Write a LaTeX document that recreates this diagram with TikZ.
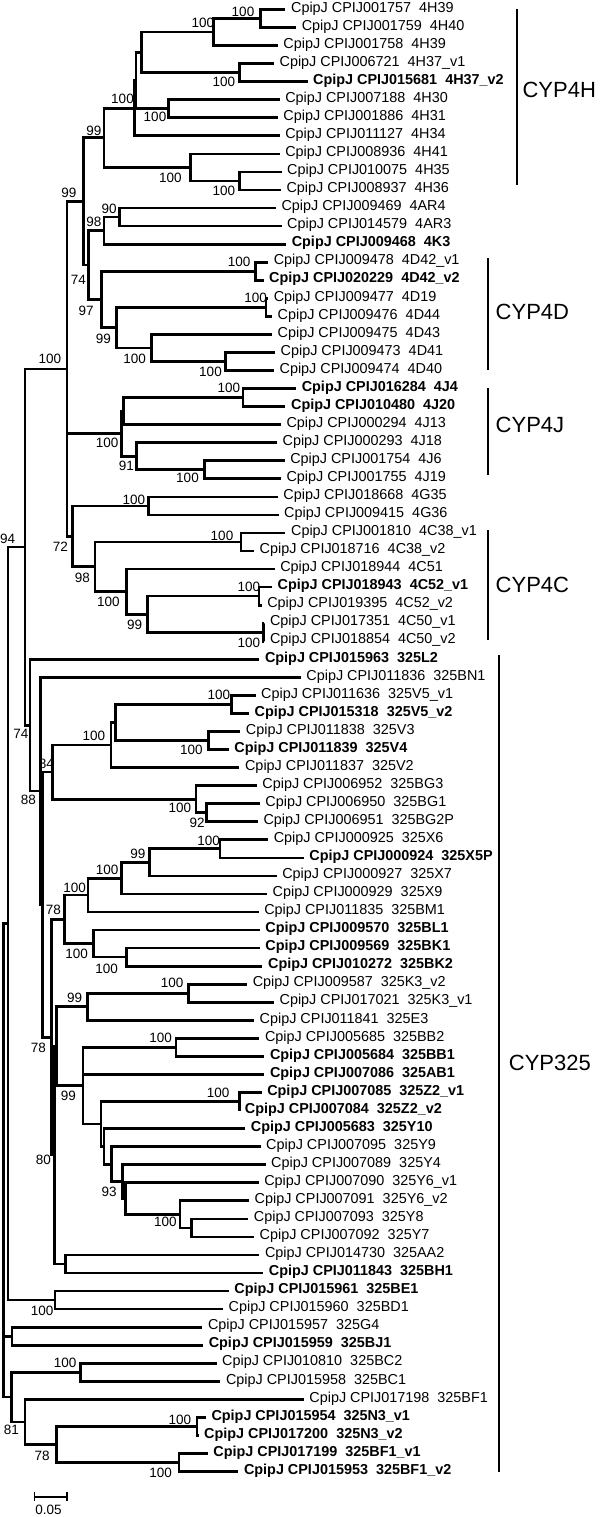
\documentclass[tikz,border=0pt]{standalone}
\usepackage{fontspec}
\setmainfont{Liberation Sans}
\usetikzlibrary{positioning}

\begin{document}
\begin{tikzpicture}[x=1pt, y=-1pt,
  branch/.style={line width=2.7pt},
  tipn/.style={anchor=west, inner xsep=5.5pt, inner ysep=0pt,
               text height=8pt, text depth=2.6pt, font=\fontsize{14.4}{16}\selectfont},
  tipb/.style={tipn, font=\fontsize{14.4}{16}\selectfont\bfseries},
  boot/.style={inner sep=0pt, font=\fontsize{13.5}{15}\selectfont},
  cladebar/.style={line width=2pt},
  cladename/.style={inner sep=0pt, font=\fontsize{22}{26}\selectfont},
]
\useasboundingbox (0,0) rectangle (600,1517);

% tips: x where the name starts / id / gene / style
\foreach \xt/\idn/\gene/\st [count=\i] in {
  290.9/001757/4H39/tipn, 301.6/001759/4H40/tipn, 283.2/001758/4H39/tipn,
  279.4/006721/4H37\_v1/tipn, 313.0/015681/4H37\_v2/tipb, 285.1/007188/4H30/tipn,
  283.2/001886/4H31/tipn, 285.1/011127/4H34/tipn, 285.1/008936/4H41/tipn,
  287.0/010075/4H35/tipn, 286.3/008937/4H36/tipn, 281.3/009469/4AR4/tipn,
  287.0/014579/4AR3/tipn, 291.6/009468/4K3/tipb, 273.6/009478/4D42\_v1/tipn,
  269.0/020229/4D42\_v2/tipb, 273.6/009477/4D19/tipn, 277.5/009476/4D44/tipn,
  277.5/009475/4D43/tipn, 280.5/009473/4D41/tipn, 279.4/009474/4D40/tipn,
  301.6/016284/4J4/tipb, 290.9/010480/4J20/tipb, 286.3/000294/4J13/tipn,
  282.4/000293/4J18/tipn, 290.1/001754/4J6/tipn, 286.3/001755/4J19/tipn,
  283.2/018668/4G35/tipn, 284.0/009415/4G36/tipn, 290.9/001810/4C38\_v1/tipn,
  259.5/018716/4C38\_v2/tipn, 280.1/018944/4C51/tipn, 277.5/018943/4C52\_v1/tipb,
  267.1/019395/4C52\_v2/tipn, 269.8/017351/4C50\_v1/tipn, 269.8/018854/4C50\_v2/tipn,
  264.8/015963/325L2/tipb, 306.2/011836/325BN1/tipn, 261.0/011636/325V5\_v1/tipn,
  254.5/015318/325V5\_v2/tipb, 245.7/011838/325V3/tipn, 234.2/011839/325V4/tipb,
  244.9/011837/325V2/tipn, 262.2/006952/325BG3/tipn, 265.2/006950/325BG1/tipn,
  263.3/006951/325BG2P/tipn, 273.6/000925/325X6/tipn, 309.2/000924/325X5P/tipb,
  282.1/000927/325X7/tipn, 272.5/000929/325X9/tipn, 264.1/011835/325BM1/tipn,
  265.2/009570/325BL1/tipb, 265.2/009569/325BK1/tipb, 267.9/010272/325BK2/tipb,
  252.6/009587/325K3\_v2/tipn, 279.4/017021/325K3\_v1/tipn, 259.5/011841/325E3/tipn,
  264.8/005685/325BB2/tipn, 269.8/005684/325BB1/tipb, 269.8/007086/325AB1/tipb,
  267.1/007085/325Z2\_v1/tipb, 244.7/007084/325Z2\_v2/tipb, 250.7/005683/325Y10/tipb,
  266.0/007095/325Y9/tipn, 271.0/007089/325Y4/tipn, 264.1/007090/325Y6\_v1/tipn,
  254.5/007091/325Y6\_v2/tipn, 253.7/007093/325Y8/tipn, 259.5/007092/325Y7/tipn,
  264.8/014730/325AA2/tipn, 268.7/011843/325BH1/tipb, 234.2/015961/325BE1/tipb,
  228.5/015960/325BD1/tipn, 207.8/015957/325G4/tipn, 208.6/015959/325BJ1/tipb,
  222.0/010810/325BC2/tipn, 225.8/015958/325BC1/tipn, 309.2/017198/325BF1/tipn,
  211.3/015954/325N3\_v1/tipb, 204.0/017200/325N3\_v2/tipb, 213.2/017199/325BF1\_v1/tipb,
  243.8/015953/325BF1\_v2/tipb}
  \node[\st] (l\i) at ({\xt-5.5},{9.5+(\i-1)*18.05}) {CpipJ CPIJ\idn~~\gene};

% inner nodes of the tree
\foreach \n/\x/\y in {
  nA/260.2/18.5, nB/213.5/32.1, nC/239.2/72.7, nD/141.6/52.4, nE/168.4/108.8,
  nDE/136.0/80.6, nF/134.5/108.2, nI/239.2/181.0, nH/190.6/167.4, nG/104.1/137.8,
  nL/119.8/217.1, nM/104.1/230.6, nO/255.6/271.2, nQ/266.0/307.3, nS/225.8/361.5,
  nR/151.2/347.9, nP/116.7/327.6, nN/101.4/299.4, nK/88.8/265.0, nJ/83.4/201.4,
  nV/243.0/397.6, nWp/123.2/411.1, nY/204.7/469.8, nX/136.6/456.2, nW/121.7/433.7,
  nAA/148.5/505.9, nAC/241.1/542.0, nAF/259.1/596.1, nAG/263.3/632.2, nAE/147.3/614.2,
  nAD/126.3/591.6, nAB/94.9/566.8, nZ/72.7/536.4, nT/67.0/368.9,
  nAH/231.5/704.4, nAI/208.6/740.5, nAJ/115.6/722.5, nAK/111.0/745.0,
  nAN/206.7/812.7, nAM/195.9/799.2, nAL/52.8/772.1,
  nAO/220.1/848.8, nAP/149.3/862.4, nAQ/121.7/878.2, nAR/88.0/895.1,
  nAV/126.3/957.1, nAW/93.6/943.6, nATp/64.3/919.4,
  nAX/188.7/993.2, nAY/87.3/1006.8, nAZ/176.0/1047.4, nBA/239.2/1101.5,
  nBG/191.5/1227.9, nBF/180.0/1214.3, nBEp/125.7/1198.5, nBE/122.7/1181.6,
  nBD/111.7/1164.2, nBC/104.0/1146.4, nBB/101.0/1124.0, nBH/83.0/1085.7,
  nBI/56.3/1046.3, nBK/65.5/1264.0, nVf/54.8/1155.1, nVe/51.7/1037.3,
  nVd/42.7/904.7, nVc/40.3/791.0, nVb/30.0/725.2, nU/24.9/547.1,
  nBL/55.0/1300.1, nRa/8.1/923.6, nBM/12.0/1336.2, nBO/80.4/1372.3,
  nBR/197.1/1426.4, nBS/179.1/1462.5, nBQ/56.6/1444.5, nBP/24.9/1421.9,
  nBN/11.8/1397.1, nRoot/3.5/1160.4}
  \coordinate (\n) at (\x,\y);

% branches, parent to child
\foreach \p/\c in {
  nA/l1, nA/l2, nB/nA, nB/l3, nC/l4, nC/l5, nD/nB, nD/nC, nE/l6, nE/l7,
  nDE/nD, nDE/nE, nF/nDE, nF/l8, nI/l10, nI/l11, nH/l9, nH/nI, nG/nF, nG/nH,
  nL/l12, nL/l13, nM/nL, nM/l14, nO/l15, nO/l16, nQ/l17, nQ/l18, nS/l20, nS/l21,
  nR/l19, nR/nS, nP/nQ, nP/nR, nN/nO, nN/nP, nK/nM, nK/nN, nJ/nG, nJ/nK,
  nV/l22, nV/l23, nWp/nV, nWp/l24, nY/l26, nY/l27, nX/l25, nX/nY, nW/nWp, nW/nX,
  nAA/l28, nAA/l29, nAC/l30, nAC/l31, nAF/l33, nAF/l34, nAG/l35, nAG/l36,
  nAE/nAF, nAE/nAG, nAD/l32, nAD/nAE, nAB/nAC, nAB/nAD, nZ/nAA, nZ/nAB,
  nT/nJ, nT/nW, nT/nZ,
  nAH/l39, nAH/l40, nAI/l41, nAI/l42, nAJ/nAH, nAJ/nAI, nAK/nAJ, nAK/l43,
  nAN/l45, nAN/l46, nAM/l44, nAM/nAN, nAL/nAK, nAL/nAM,
  nAO/l47, nAO/l48, nAP/nAO, nAP/l49, nAQ/nAP, nAQ/l50, nAR/nAQ, nAR/l51,
  nAV/l53, nAV/l54, nAW/l52, nAW/nAV, nATp/nAR, nATp/nAW,
  nAX/l55, nAX/l56, nAY/nAX, nAY/l57, nAZ/l58, nAZ/l59, nBA/l61, nBA/l62,
  nBG/l68, nBG/l69, nBF/l67, nBF/nBG, nBEp/l66, nBEp/nBF, nBE/l65, nBE/nBEp,
  nBD/l64, nBD/nBE, nBC/l63, nBC/nBD, nBB/nBA, nBB/nBC,
  nBH/nAZ, nBH/l60, nBH/nBB, nBI/nAY, nBI/nBH, nBK/l70, nBK/l71,
  nVf/nBI, nVf/nBK, nVe/nATp, nVe/nVf, nVd/nAL, nVd/nVe, nVc/l38, nVc/nVd,
  nVb/l37, nVb/nVc, nU/nT, nU/nVb, nBL/l72, nBL/l73, nRa/nU, nRa/nBL,
  nBM/l74, nBM/l75, nBO/l76, nBO/l77, nBR/l79, nBR/l80, nBS/l81, nBS/l82,
  nBQ/nBR, nBQ/nBS, nBP/l78, nBP/nBQ, nBN/nBO, nBN/nBP,
  nRoot/nRa, nRoot/nBM, nRoot/nBN}
  \draw[branch] (\p) |- (\c);

% bootstrap values
\foreach \x/\y/\v [count=\k] in {
  243.0/11.7/100, 202.8/23.3/100, 223.9/81.7/100, 122.5/99.0/100, 155.0/116.7/100,
  93.8/131.0/99, 170.3/177.7/100, 223.9/191.0/100, 68.9/192.7/99,
  109.1/209.0/90, 93.8/222.3/98, 78.5/280.0/74, 239.2/261.7/100, 86.1/311.0/97,
  255.6/298.3/100, 103.3/339.0/99, 134.7/359.3/100, 210.5/371.7/100, 49.8/359.3/100,
  228.9/388.3/100, 107.2/442.7/100, 126.3/465.7/91, 187.5/477.7/100, 133.9/500.0/100,
  7.7/539.3/94, 60.5/546.7/72, 222.0/535.7/100,
  82.3/578.3/98, 108.3/602.3/100, 134.7/625.0/99, 248.8/586.7/100, 248.8/642.7/100,
  218.9/695.0/100, 191.4/750.0/100, 93.8/735.7/100, 20.8/734.0/74, 46.3/764.0/84,
  28.5/799.7/88, 179.9/808.3/100, 197.1/823.3/92, 208.6/841.0/100, 137.8/854.3/99,
  107.2/870.0/100, 74.6/887.7/100, 53.3/910.0/78, 76.7/954.3/100, 106.7/969.3/100,
  172.2/983.3/100, 74.6/997.7/99, 38.3/1048.3/78, 160.7/1038.3/100, 68.3/1095.7/99,
  218.1/1092.7/100, 43.3/1160.0/80, 109.1/1191.7/93, 165.3/1221.7/100, 42.1/1311.0/100,
  65.1/1363.3/100, 11.5/1430.0/81, 42.1/1456.0/78, 179.9/1420.0/100, 160.7/1473.3/100}
  \node[boot] (bs\k) at (\x,\y) {\v};

% family bars and names
\coordinate (c4ht) at (517.4,9.3);   \coordinate (c4hb) at (517.4,185.0);
\coordinate (c4dt) at (488.0,258.3); \coordinate (c4db) at (488.0,370.0);
\coordinate (c4jt) at (488.0,388.3); \coordinate (c4jb) at (488.0,475.0);
\coordinate (c4ct) at (488.0,530.0); \coordinate (c4cb) at (488.0,640.0);
\coordinate (c325t) at (498.7,655.0); \coordinate (c325b) at (498.7,1471.7);
\foreach \a/\b in {c4ht/c4hb, c4dt/c4db, c4jt/c4jb, c4ct/c4cb, c325t/c325b}
  \draw[cladebar] (\a) -- (\b);
\coordinate (c4h) at (517.4,90.0);
\coordinate (c4d) at (488.0,311.7);
\coordinate (c4j) at (488.0,425.0);
\coordinate (c4c) at (488.0,585.0);
\coordinate (c325) at (498.7,1063.3);
\node[cladename, right=5pt of c4h] (cyp4h) {CYP4H};
\node[cladename, right=7.5pt of c4d] (cyp4d) {CYP4D};
\node[cladename, right=7.5pt of c4j] (cyp4j) {CYP4J};
\node[cladename, right=7.5pt of c4c] (cyp4c) {CYP4C};
\node[cladename, right=10pt of c325] (cyp325) {CYP325};

% scale bar
\coordinate (sbl) at (34.4,1496.7);
\coordinate (sbr) at (67.0,1496.7);
\draw[line width=1.6pt] (sbl) -- (sbr);
\draw[line width=1.6pt] ([yshift=4.5pt]sbl) -- ([yshift=-4.5pt]sbl);
\draw[line width=1.6pt] ([yshift=4.5pt]sbr) -- ([yshift=-4.5pt]sbr);
\node[boot] (sbtext) at (48.4,1510.0) {0.05};
\end{tikzpicture}
\end{document}
